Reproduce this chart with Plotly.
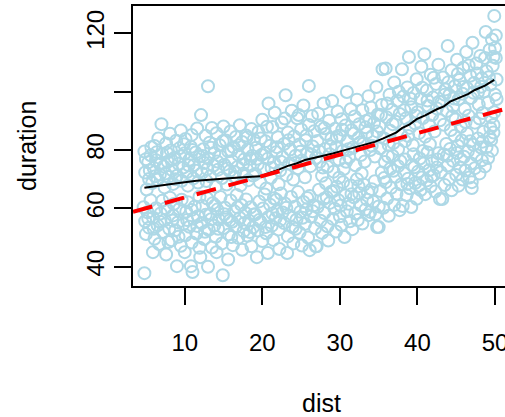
import plotly.graph_objects as go

# ---- scatter data: (dist, duration) pairs, grouped by region of dist ----
pts_a_upper = [(4.8,79.5),(4.9,72.3),(5.1,66.5),(5.3,75.8),(5.4,70.1),(5.6,78.2),(5.8,68.7),(6.0,73.9),(6.1,81.4),(6.3,76.5),(6.5,69.8),(6.6,84.0),(6.8,71.6),(7.0,88.9),(7.1,78.7),(7.3,74.4),(7.4,67.2),(7.6,82.3),(7.8,76.0),(7.9,70.8),(8.1,85.6),(8.2,79.9),(8.4,73.1),(8.5,68.4),(8.7,77.4),(8.9,83.2),(9.0,71.2),(9.2,75.3),(9.3,80.6),(9.5,86.7),(9.6,69.5),(9.8,74.0),(10.0,78.9),(10.1,83.8),(10.3,72.5),(10.4,67.8),(10.6,76.7),(10.8,81.1),(10.9,85.2),(11.1,70.3),(11.2,74.9),(11.4,79.2),(11.6,87.4),(11.7,68.9),(11.9,77.8)]
pts_a_lower = [(4.7,60.4),(4.8,37.8),(4.9,55.6),(5.0,51.2),(5.2,58.7),(5.4,53.4),(5.6,62.8),(5.9,45.0),(5.9,56.9),(6.1,49.6),(6.3,60.1),(6.5,54.2),(6.7,47.8),(6.9,58.3),(7.1,62.6),(7.2,51.9),(7.4,56.0),(7.6,44.2),(7.8,59.4),(8.0,53.0),(8.1,63.7),(8.3,49.1),(8.5,57.6),(8.6,61.5),(8.8,52.5),(9.0,40.2),(9.1,55.2),(9.3,59.8),(9.5,47.2),(9.6,63.0),(9.8,54.6),(10.0,45.0),(10.1,50.8),(10.2,58.9),(10.4,62.1),(10.6,53.7),(10.8,40.2),(10.9,48.3),(11.0,38.2),(11.1,56.5),(11.3,60.7),(11.5,51.4),(11.7,57.3),(11.9,64.0),(11.9,46.5)]
pts_a_extra = [(5.0,76.9),(5.5,73.0),(5.7,81.0),(6.2,71.0),(6.4,79.3),(6.9,75.2),(7.5,72.0),(7.7,79.1),(8.3,76.6),(8.8,70.0),(9.4,77.9),(9.9,82.0),(10.5,74.8),(11.0,80.0),(11.5,72.9),(5.3,56.5),(6.0,53.0),(6.8,55.4),(7.5,60.0),(8.4,55.9),(9.2,50.3),(10.3,56.0),(10.9,59.5),(11.6,54.0),(7.9,48.5)]
pts_b_upper = [(12.1,92.0),(12.2,72.1),(12.4,80.3),(12.5,75.6),(12.7,84.9),(12.8,69.4),(13.0,101.9),(13.0,77.2),(13.2,82.5),(13.3,71.0),(13.5,87.6),(13.7,74.7),(13.8,79.0),(14.0,67.5),(14.1,85.8),(14.3,73.3),(14.5,81.7),(14.6,77.9),(14.8,70.4),(15.0,88.1),(15.1,75.0),(15.3,83.3),(15.4,68.2),(15.6,79.6),(15.8,72.8),(15.9,86.4),(16.1,76.3),(16.3,81.0),(16.4,70.9),(16.6,84.5),(16.8,74.2),(16.9,78.4),(17.1,88.5),(17.2,67.9),(17.4,82.8),(17.6,72.0),(17.7,76.9),(17.9,85.0),(18.1,80.1),(18.2,69.7),(18.4,74.6),(18.6,87.2),(18.7,78.0),(18.9,83.6)]
pts_b_lower = [(12.0,43.3),(12.2,55.0),(12.3,60.9),(12.5,49.5),(12.7,57.8),(12.9,63.4),(13.0,40.0),(13.1,52.7),(13.3,58.2),(13.5,46.6),(13.6,61.8),(13.8,54.1),(14.0,50.3),(14.1,45.0),(14.2,59.6),(14.4,56.2),(14.6,63.9),(14.8,48.0),(14.9,37.1),(15.0,53.3),(15.2,60.2),(15.4,57.0),(15.6,42.5),(15.7,51.1),(15.9,62.7),(16.1,55.4),(16.2,47.4),(16.4,59.0),(16.6,53.8),(16.7,64.6),(16.9,49.9),(17.1,56.7),(17.3,61.2),(17.4,45.8),(17.6,52.2),(17.8,58.5),(17.9,63.1),(18.1,50.6),(18.3,55.8),(18.5,60.4),(18.6,47.0),(18.8,53.5),(18.9,57.9)]
pts_b_extra = [(12.3,78.0),(12.9,73.5),(13.4,80.8),(14.2,76.1),(14.9,83.0),(15.5,73.7),(16.0,79.8),(16.5,72.4),(17.0,81.7),(17.5,75.1),(18.0,84.3),(18.5,77.0),(18.8,71.3),(12.6,52.0),(13.4,56.3),(14.3,53.0),(15.1,58.0),(16.0,50.2),(16.8,60.3),(17.7,55.0),(18.4,51.9),(13.9,61.0),(15.8,55.9)]
pts_c_upper = [(19.1,71.8),(19.2,80.8),(19.4,75.1),(19.5,86.2),(19.7,69.0),(19.9,78.3),(20.0,90.4),(20.2,73.6),(20.4,83.0),(20.5,66.8),(20.7,77.0),(20.8,96.0),(21.0,81.5),(21.1,70.5),(21.3,87.9),(21.5,75.8),(21.6,92.8),(21.8,79.3),(22.0,84.4),(22.1,68.3),(22.3,73.0),(22.5,89.5),(22.6,77.6),(22.8,82.1),(23.0,98.8),(23.1,71.4),(23.3,86.0),(23.5,75.4),(23.6,80.2),(23.8,93.5),(24.0,69.9),(24.1,84.7),(24.3,78.1),(24.5,90.9),(24.6,73.8),(24.8,81.9),(25.0,87.1),(25.1,76.4),(25.3,95.3),(25.5,70.7),(25.6,83.4),(25.8,79.0),(26.0,102.0),(26.0,88.6),(26.2,74.5),(26.4,91.7),(26.5,81.2),(26.7,86.5),(26.9,77.3)]
pts_c_lower = [(19.1,58.0),(19.3,43.3),(19.4,52.4),(19.6,62.4),(19.8,55.3),(20.0,48.8),(20.1,60.0),(20.3,64.8),(20.5,51.5),(20.7,44.7),(20.8,57.1),(21.0,61.3),(21.2,54.0),(21.4,49.2),(21.5,63.5),(21.7,56.6),(21.9,59.1),(22.1,52.8),(22.2,46.1),(22.4,65.1),(22.6,58.6),(22.8,55.0),(22.9,61.7),(23.2,44.7),(23.3,50.4),(23.5,57.5),(23.7,63.9),(23.9,53.6),(24.0,48.0),(24.2,60.6),(24.4,56.1),(24.6,65.6),(24.8,51.7),(24.9,58.9),(25.1,47.3),(25.3,62.2),(25.5,54.7),(25.7,59.7),(25.9,50.0),(26.1,45.7),(26.1,64.3),(26.3,57.2),(26.6,61.0),(26.8,53.2),(26.9,47.0)]
pts_c_extra = [(19.3,77.0),(19.8,84.0),(20.3,79.0),(21.2,73.9),(21.9,81.0),(22.4,76.0),(23.4,83.4),(24.2,75.6),(24.9,79.4),(25.7,85.0),(26.3,78.5),(20.6,88.0),(22.9,90.8),(24.7,92.0),(19.6,56.0),(20.4,53.6),(21.3,58.3),(22.3,55.9),(23.1,60.2),(24.3,53.0),(25.2,56.8),(26.5,59.0),(21.8,63.0),(25.8,63.6)]
pts_d_upper = [(27.1,83.1),(27.2,92.5),(27.4,76.0),(27.6,88.0),(27.7,71.2),(27.9,96.0),(28.1,80.4),(28.2,85.5),(28.4,74.3),(28.6,90.1),(28.7,78.6),(28.9,83.9),(29.0,96.8),(29.2,72.6),(29.4,87.3),(29.5,81.0),(29.7,93.2),(29.9,76.7),(30.0,85.0),(30.2,90.6),(30.4,79.8),(30.5,73.5),(30.7,88.4),(30.9,99.9),(31.0,83.0),(31.2,77.5),(31.4,94.0),(31.5,86.8),(31.7,80.9),(31.9,91.5),(32.0,74.8),(32.2,97.3),(32.4,84.2),(32.5,88.9),(32.7,78.3),(32.9,93.7),(33.0,82.2),(33.2,76.1),(33.4,90.0),(33.5,86.0),(33.7,98.5),(33.9,80.0),(34.0,94.6),(34.2,84.8),(34.4,89.3),(34.5,77.8),(34.7,101.6),(34.9,92.2)]
pts_d_lower = [(27.0,47.0),(27.1,60.5),(27.3,66.4),(27.5,55.8),(27.7,51.6),(27.9,63.2),(28.0,58.4),(28.2,68.6),(28.4,53.9),(28.5,49.0),(28.7,61.9),(28.9,65.7),(29.1,56.4),(29.3,59.9),(29.5,52.1),(29.6,67.4),(29.8,62.8),(30.0,57.3),(30.2,54.3),(30.4,69.0),(30.6,50.2),(30.7,64.4),(30.9,59.0),(31.1,61.6),(31.3,55.6),(31.4,67.9),(31.6,52.9),(31.8,63.8),(32.0,58.3),(32.2,70.0),(32.3,56.0),(32.5,65.2),(32.7,61.1),(32.9,54.8),(33.1,68.1),(33.3,59.6),(33.5,63.0),(33.7,57.7),(33.9,58.8),(34.1,66.6),(34.3,62.3),(34.5,69.3),(34.8,53.6),(35.0,60.7)]
pts_d_extra = [(27.3,79.7),(28.0,87.5),(28.8,81.2),(29.6,84.6),(30.3,87.0),(31.1,80.3),(31.8,85.7),(32.6,82.6),(33.3,87.8),(34.1,81.5),(34.8,86.4),(27.8,74.0),(30.8,76.0),(33.8,90.5),(28.3,63.8),(29.2,66.0),(30.1,61.0),(31.5,64.9),(32.4,67.6),(33.6,65.5),(34.6,58.0),(29.9,70.5),(32.8,72.0)]
pts_e_upper = [(35.1,88.2),(35.2,80.6),(35.4,95.5),(35.5,107.7),(35.7,84.0),(35.9,108.0),(36.0,91.3),(36.2,77.9),(36.4,99.0),(36.5,86.6),(36.7,93.8),(36.9,82.4),(37.0,103.2),(37.2,89.7),(37.4,96.9),(37.5,80.3),(37.7,92.4),(37.9,85.3),(38.0,107.7),(38.2,98.4),(38.4,83.1),(38.5,90.8),(38.7,101.5),(38.9,111.9),(39.0,87.6),(39.2,94.7),(39.4,81.7),(39.5,99.6),(39.7,89.1),(39.9,104.3),(40.0,93.0),(40.2,85.8),(40.4,97.7),(40.5,108.6),(40.7,91.0),(40.9,112.9),(41.0,84.6),(41.2,100.4),(41.4,95.1),(41.5,88.5),(41.7,105.8),(41.9,92.0),(42.0,98.0),(42.2,86.4),(42.4,102.7),(42.5,94.3),(42.7,109.3),(42.9,90.2)]
pts_e_lower = [(35.0,53.6),(35.2,66.0),(35.4,72.3),(35.6,60.2),(35.8,75.9),(35.9,69.0),(36.1,63.4),(36.3,57.5),(36.5,73.6),(36.6,67.1),(36.8,78.0),(37.0,61.2),(37.2,70.8),(37.3,65.0),(37.5,74.5),(37.7,59.4),(37.9,68.2),(38.1,60.8),(38.3,72.0),(38.4,76.8),(38.6,64.6),(38.8,70.2),(39.0,66.9),(39.2,60.5),(39.3,74.9),(39.5,78.6),(39.7,68.7),(39.9,63.3),(40.1,72.7),(40.3,77.1),(40.4,66.3),(40.6,70.6),(40.8,75.4),(41.0,64.9),(41.2,69.6),(41.3,79.2),(41.5,73.1),(41.7,67.5),(41.9,76.3),(42.1,71.4),(42.3,65.8),(42.5,74.0),(42.7,78.9),(42.9,63.2)]
pts_e_extra = [(35.3,92.0),(36.1,96.0),(36.8,88.9),(37.6,100.0),(38.3,93.7),(39.1,97.6),(39.8,91.8),(40.6,101.4),(41.3,97.0),(42.1,104.8),(42.8,96.6),(36.3,81.7),(38.8,84.8),(41.6,82.0),(35.7,70.4),(36.9,72.9),(37.8,76.2),(38.7,68.4),(39.6,74.1),(40.7,79.7),(41.8,71.0),(42.6,76.8),(40.2,67.9)]
pts_f_upper = [(43.1,96.5),(43.3,104.9),(43.4,88.7),(43.6,100.8),(43.8,93.4),(43.9,115.7),(44.1,98.9),(44.3,86.9),(44.4,107.4),(44.6,95.0),(44.8,101.9),(44.9,90.5),(45.1,111.0),(45.3,97.4),(45.4,104.0),(45.6,88.0),(45.8,99.3),(45.9,108.2),(46.1,94.1),(46.3,113.6),(46.4,101.2),(46.6,91.8),(46.8,105.5),(46.9,97.9),(47.1,116.8),(47.3,103.0),(47.4,89.4),(47.6,109.7),(47.8,99.8),(47.9,95.6),(48.1,112.3),(48.3,104.6),(48.4,92.7),(48.6,100.1),(48.8,120.5),(48.9,107.0),(49.1,96.3),(49.3,114.4),(49.4,102.4),(49.6,117.9),(49.7,108.9),(49.9,126.0),(49.9,93.0),(50.0,99.0),(50.1,111.6),(50.1,119.3),(50.2,104.2),(49.8,86.0),(50.0,115.0),(49.5,83.5)]
pts_f_lower = [(43.0,72.4),(43.2,63.2),(43.4,78.5),(43.5,68.0),(43.7,82.1),(43.9,74.7),(44.1,70.0),(44.2,80.4),(44.4,66.2),(44.6,76.3),(44.8,84.9),(45.0,71.5),(45.1,79.0),(45.3,67.8),(45.5,74.0),(45.7,83.3),(45.8,69.9),(46.0,77.7),(46.2,73.0),(46.4,85.6),(46.5,79.6),(46.7,70.6),(46.9,75.4),(47.0,67.0),(47.0,69.0),(47.2,81.8),(47.4,73.8),(47.6,78.2),(47.8,84.0),(48.0,72.0),(48.2,80.9),(48.3,76.5),(48.5,86.3),(48.7,74.4),(48.9,81.0),(49.1,77.3),(49.3,84.4),(49.6,79.8),(49.8,88.6)]
pts_f_extra = [(43.5,99.0),(44.0,103.3),(44.7,97.7),(45.2,106.1),(45.9,101.6),(46.6,109.0),(47.2,99.7),(47.7,106.3),(48.2,101.7),(48.7,111.6),(49.2,105.0),(49.8,112.0),(50.2,97.5),(44.5,91.6),(46.2,89.6),(48.0,90.8),(49.5,91.3),(43.8,78.0),(45.2,81.5),(46.8,83.0),(48.4,82.9),(49.4,87.6),(45.6,76.8)]

# ---- smooth (black) curve ----
smooth_dist = [4.8, 6.0, 7.2, 9.0, 11.5, 13.0, 14.5, 17.0, 19.7, 21.0, 22.2, 23.3, 24.4, 25.5, 26.6, 27.7, 29.1, 30.5, 31.9, 33.4, 34.5, 35.6, 36.5, 37.3, 38.0, 39.0, 39.9, 41.0, 42.5, 43.4, 44.2, 45.5, 46.5, 47.4, 48.7, 49.9]
smooth_duration = [67.1, 67.6, 68.0, 68.6, 69.5, 69.8, 70.3, 70.6, 71.0, 72.2, 73.4, 74.6, 75.4, 76.6, 77.2, 78.0, 78.8, 79.9, 81.0, 82.0, 82.8, 84.0, 85.1, 86.1, 87.5, 88.8, 90.6, 91.9, 94.0, 95.0, 96.6, 98.0, 99.2, 100.6, 102.1, 104.1]

# ---- linear fit (red dashed) ----
fit_intercept = 56.4
fit_slope = 0.735

x_range = [3.33, 51.8]
y_range = [33.4, 129.4]
x_ticks = [10, 20, 30, 40, 50]
y_ticks = [40, 60, 80, 100, 120]
y_ticktext = ["40", "60", "80", "", "120"]

all_pts = (pts_a_upper + pts_a_lower + pts_a_extra + pts_b_upper + pts_b_lower + pts_b_extra +
           pts_c_upper + pts_c_lower + pts_c_extra + pts_d_upper + pts_d_lower + pts_d_extra +
           pts_e_upper + pts_e_lower + pts_e_extra + pts_f_upper + pts_f_lower + pts_f_extra)
dist = [p[0] for p in all_pts]
duration = [p[1] for p in all_pts]

fit_x = x_range
fit_y = [fit_intercept + fit_slope * v for v in fit_x]

FONT = "Liberation Sans, Arial, Helvetica, sans-serif"

fig = go.Figure()
fig.add_trace(go.Scatter(x=dist, y=duration, mode="markers",
                         marker=dict(symbol="circle-open", size=12, color="#ADD8E6",
                                     line=dict(width=2, color="#ADD8E6")),
                         showlegend=False, hoverinfo="skip"))
fig.add_trace(go.Scatter(x=smooth_dist, y=smooth_duration, mode="lines",
                         line=dict(color="black", width=2), showlegend=False))
fig.add_trace(go.Scatter(x=fit_x, y=fit_y, mode="lines",
                         line=dict(color="#FF0000", width=4, dash="20px,13px"), showlegend=False))

# The original plot region runs slightly past the right edge of the 505px window,
# so the figure is 509px wide and the page clips the last few pixels.
fig.update_layout(
    width=509, height=417,
    margin=dict(l=133, r=0, t=6, b=131),
    paper_bgcolor="white", plot_bgcolor="white",
    font=dict(family=FONT, size=24, color="black"),
    xaxis=dict(range=x_range, tickvals=x_ticks, ticks="outside", ticklen=17, tickwidth=2,
               tickcolor="black", showline=True, linewidth=2, linecolor="black", mirror=True,
               showgrid=False, zeroline=False, ticklabeloverflow="allow", ticklabelstandoff=17,
               tickfont=dict(size=24, family=FONT, color="black")),
    yaxis=dict(range=y_range, tickvals=y_ticks, ticktext=y_ticktext, ticks="outside", ticklen=17,
               tickwidth=2, tickcolor="black", showline=True, linewidth=2, linecolor="black",
               showgrid=False, zeroline=False, tickangle=-90,
               tickfont=dict(size=24, family=FONT, color="black")),
    annotations=[
        dict(text="dist", xref="paper", yref="paper", x=0.5, y=0, yshift=-117,
             xanchor="center", yanchor="middle", showarrow=False,
             font=dict(size=25, family=FONT, color="black")),
        dict(text="duration", xref="paper", yref="paper", x=0, y=0.5, xshift=-106,
             xanchor="center", yanchor="middle", textangle=-90, showarrow=False,
             font=dict(size=25, family=FONT, color="black")),
    ],
)

fig.write_html("out.html", config={"displayModeBar": False},
               post_script="document.body.style.margin='0px';document.body.style.overflow='hidden';")
